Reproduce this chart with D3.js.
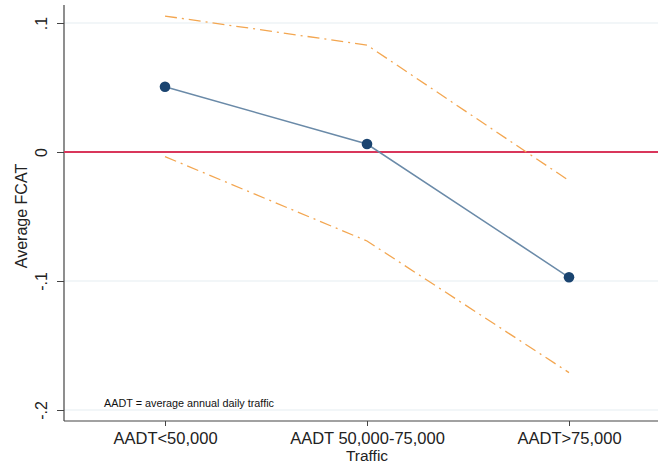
<!DOCTYPE html>
<html><head><meta charset="utf-8">
<script src="https://cdn.jsdelivr.net/npm/d3@7"></script>
<style>body{margin:0;background:#fff}svg{display:block}text{font-family:"Liberation Sans",Arial,sans-serif}</style>
</head><body><svg id="c" width="658" height="463"></svg>
<script>
const categories = ["AADT<50,000", "AADT 50,000-75,000", "AADT>75,000"];
const meanFCAT = [0.0506, 0.0062, -0.0971];
const upperCI = [0.1054, 0.0829, -0.0222];
const lowerCI = [-0.0036, -0.069, -0.171];
const yTicks = [0.1, 0, -0.1, -0.2];
const yTickLabels = [".1", "0", "-.1", "-.2"];

const svg = d3.select("#c");
const pL = 64, pT = 5, pB = 421, pR = 658;
const x = d3.scaleLinear().domain([0.5, 3.5]).range([pL, pL + 3 * 202]);
const y = d3.scaleLinear().domain([0, -0.2]).range([152, 410]);

// gridlines
svg.append("g").selectAll("line").data(yTicks.filter(d => d !== 0)).join("line")
  .attr("x1", pL).attr("x2", pR).attr("y1", d => y(d)).attr("y2", d => y(d))
  .attr("stroke", "#e6edf1").attr("stroke-width", 1.2);

// y axis
const yAxis = d3.axisLeft(y).tickValues(yTicks).tickFormat((d, i) => yTickLabels[i]).tickSize(7).tickPadding(0);
const gy = svg.append("g").attr("transform", `translate(${pL},0)`).call(yAxis);
gy.select(".domain").remove();
gy.selectAll(".tick line").attr("stroke", "#444");
gy.selectAll(".tick text").attr("transform", "rotate(-90)").attr("x", 0).attr("y", -17)
  .attr("dy", 0).attr("text-anchor", "middle").attr("font-size", 16).attr("fill", "#222");
svg.append("line").attr("x1", pL).attr("x2", pL).attr("y1", pT).attr("y2", pB).attr("stroke", "#444").attr("stroke-width", 1.2);

// x axis
const xAxis = d3.axisBottom(x).tickValues([1, 2, 3]).tickFormat((d) => categories[d - 1]).tickSize(5).tickPadding(0);
const gx = svg.append("g").attr("transform", `translate(0,${pB})`).call(xAxis);
gx.select(".domain").remove();
gx.selectAll(".tick line").attr("stroke", "#444");
gx.selectAll(".tick text").attr("font-size", 16.5).attr("fill", "#222").attr("y", 23).attr("dy", 0);
svg.append("line").attr("x1", pL).attr("x2", pR).attr("y1", pB).attr("y2", pB).attr("stroke", "#444").attr("stroke-width", 1.2);

// axis titles
svg.append("text").attr("x", (pL + pR) / 2 + 6).attr("y", 461).attr("text-anchor", "middle")
  .attr("font-size", 15.5).attr("fill", "#222").text("Traffic");
svg.append("text").attr("transform", `translate(27,${(pT + pB) / 2 + 3}) rotate(-90)`).attr("text-anchor", "middle")
  .attr("font-size", 16).attr("fill", "#222").text("Average FCAT");

// zero line
svg.append("line").attr("x1", pL).attr("x2", pR).attr("y1", y(0)).attr("y2", y(0))
  .attr("stroke", "#d9365b").attr("stroke-width", 2);

const line = d3.line().x((d, i) => x(i + 1)).y(d => y(d));
const dash = "12,5,2,5";
svg.append("path").datum(upperCI).attr("d", line).attr("fill", "none").attr("stroke", "#f3a650").attr("stroke-width", 1.3).attr("stroke-dasharray", dash);
svg.append("path").datum(lowerCI).attr("d", line).attr("fill", "none").attr("stroke", "#f3a650").attr("stroke-width", 1.3).attr("stroke-dasharray", dash);
svg.append("path").datum(meanFCAT).attr("d", line).attr("fill", "none").attr("stroke", "#6a8aa8").attr("stroke-width", 1.5);
svg.append("g").selectAll("circle").data(meanFCAT).join("circle")
  .attr("cx", (d, i) => x(i + 1)).attr("cy", d => y(d)).attr("r", 5.3).attr("fill", "#1a4470");

// note
svg.append("text").attr("x", 104).attr("y", 407).attr("font-size", 10).attr("fill", "#111")
  .attr("textLength", 170).attr("lengthAdjust", "spacingAndGlyphs").text("AADT = average annual daily traffic");
</script></body></html>
